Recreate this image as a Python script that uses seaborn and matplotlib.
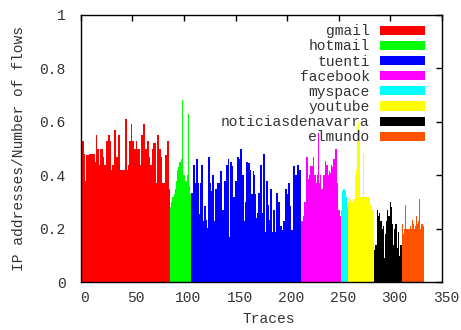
import numpy as np
import pandas as pd
import matplotlib
matplotlib.use("Agg")
import matplotlib.pyplot as plt
import matplotlib.transforms as mtransforms
from matplotlib.patches import Patch
import seaborn as sns

services = ["gmail", "hotmail", "tuenti", "facebook", "myspace", "youtube",
            "noticiasdenavarra", "elmundo"]
colors = ["#ff0000", "#00ff00", "#0000ff", "#ff00ff", "#00ffff", "#ffff00",
          "#000000", "#ff5200"]

gmail = [0.355, 0.355, 0.53, 0.53, 0.48, 0.38, 0.475, 0.475, 0.475, 0.48,
         0.48, 0.48, 0.48, 0.48, 0.45, 0.55, 0.50, 0.50, 0.44, 0.50,
         0.50, 0.50, 0.47, 0.44, 0.44, 0.53, 0.53, 0.55, 0.55, 0.53,
         0.42, 0.44, 0.44, 0.57, 0.57, 0.47, 0.47, 0.55, 0.55, 0.42,
         0.42, 0.42, 0.42, 0.61, 0.61, 0.42, 0.44, 0.53, 0.53, 0.59,
         0.53, 0.53, 0.50, 0.50,
         0.53, 0.50, 0.50, 0.50, 0.44, 0.55, 0.55, 0.59, 0.59, 0.50,
         0.50, 0.53, 0.53, 0.47, 0.44, 0.44, 0.50, 0.52, 0.52, 0.37,
         0.55, 0.55, 0.50, 0.50, 0.47, 0.37, 0.37, 0.37, 0.475, 0.475,
         0.53, 0.53, 0.35]
hotmail = [0.28, 0.30, 0.32, 0.32, 0.33, 0.35, 0.38, 0.42, 0.43, 0.45,
           0.45, 0.46, 0.68, 0.40, 0.40, 0.38, 0.40, 0.63, 0.36, 0.33]
tuenti = [0.335, 0.335, 0.437, 0.437, 0.37, 0.46, 0.46, 0.37, 0.254, 0.37,
          0.44, 0.44, 0.23, 0.285, 0.285, 0.235, 0.205, 0.47, 0.47, 0.37,
          0.34, 0.40, 0.40, 0.23, 0.35, 0.35, 0.37, 0.37, 0.416, 0.416,
          0.27, 0.27, 0.38, 0.38, 0.44, 0.44, 0.46, 0.17, 0.45, 0.45,
          0.435, 0.32, 0.32, 0.38, 0.38, 0.47, 0.47, 0.46, 0.50, 0.50,
          0.40, 0.40, 0.23, 0.30, 0.45, 0.45,
          0.445, 0.42, 0.33, 0.33, 0.416, 0.40, 0.33, 0.24, 0.26, 0.335,
          0.335, 0.44, 0.44, 0.26, 0.48, 0.48, 0.19, 0.38, 0.38, 0.29,
          0.235, 0.35, 0.35, 0.19, 0.27, 0.27, 0.19, 0.335, 0.335, 0.30,
          0.30, 0.21, 0.195, 0.23, 0.23, 0.35, 0.35, 0.33, 0.37, 0.37,
          0.285, 0.195, 0.195, 0.435, 0.435, 0.40, 0.40, 0.44, 0.44, 0.42,
          0.42]
facebook = [0.23, 0.23, 0.25, 0.30, 0.30, 0.47, 0.47, 0.385, 0.40, 0.435,
            0.435, 0.47, 0.40, 0.40, 0.37, 0.40, 0.56, 0.37, 0.40, 0.35,
            0.35, 0.40, 0.40, 0.455, 0.44, 0.44, 0.40, 0.415, 0.41, 0.44,
            0.43, 0.46, 0.46, 0.50, 0.50, 0.37, 0.27, 0.27, 0.25]
myspace = [0.27, 0.34, 0.35, 0.34, 0.32, 0.28]
youtube = [0.30, 0.32, 0.31, 0.30, 0.30, 0.31, 0.31, 0.40, 0.42, 0.58,
           0.60, 0.57, 0.32, 0.32, 0.32, 0.48, 0.32, 0.32, 0.32, 0.32,
           0.32, 0.32, 0.29, 0.29, 0.27, 0.27]
noticias = [0.12, 0.14, 0.27, 0.25, 0.26, 0.23, 0.23, 0.20, 0.21, 0.09,
            0.18, 0.23, 0.27, 0.25, 0.25, 0.30, 0.28, 0.22, 0.14, 0.20,
            0.22, 0.22, 0.13, 0.19, 0.10, 0.14, 0.14]
elmundo = [0.22, 0.18, 0.20, 0.29, 0.20, 0.20, 0.20, 0.21, 0.20, 0.235,
           0.22, 0.20, 0.21, 0.25, 0.22, 0.23, 0.31, 0.20, 0.22, 0.22, 0.21]

series = [gmail, hotmail, tuenti, facebook, myspace, youtube, noticias, elmundo]
vals, labs = [], []
for name, s in zip(services, series):
    vals.extend(s)
    labs.extend([name] * len(s))
df = pd.DataFrame({"trace": np.arange(len(vals)), "value": vals, "service": labs})

sns.set_style("white")
plt.rcParams["font.family"] = ["Liberation Mono", "DejaVu Sans Mono"]
fs = 10.5
txt = "#333333"

fig = plt.figure(figsize=(4.61, 3.30), dpi=100)
ax = fig.add_axes([0.175, 0.144, 0.784, 0.8115])

sns.histplot(data=df, x="trace", weights="value", hue="service",
             hue_order=services, palette=colors, discrete=True,
             multiple="layer", element="bars", fill=True, alpha=1,
             linewidth=0, shrink=1, legend=False, ax=ax)

ax.set_xlim(0, 350)
ax.set_ylim(0, 1)
ax.set_xticks(np.arange(0, 351, 50))
ax.set_yticks([0, 0.2, 0.4, 0.6, 0.8, 1])
ax.set_yticklabels(["0", "0.2", "0.4", "0.6", "0.8", "1"])
ax.tick_params(direction="in", length=4, width=1, top=True, right=True,
               labelsize=fs, labelcolor=txt, color="black")
ax.tick_params(axis="x", pad=6)
ax.tick_params(axis="y", pad=11)
shift = mtransforms.ScaledTranslation(4 / 100, 0, fig.dpi_scale_trans)
for lbl in ax.get_xticklabels():
    lbl.set_transform(lbl.get_transform() + shift)
for sp in ax.spines.values():
    sp.set_visible(True)
    sp.set_color("black")
    sp.set_linewidth(1)

ax.set_xlabel("Traces", fontsize=fs, color=txt)
ax.set_ylabel("IP addresses/Number of flows", fontsize=fs, color=txt)
ax.xaxis.set_label_coords(0.52, -0.112)
ax.yaxis.set_label_coords(-0.152, 0.5)

handles = [Patch(facecolor=c, edgecolor="none", label=n)
           for n, c in zip(services, colors)]
leg = ax.legend(handles=handles, loc="upper right", bbox_to_anchor=(0.953, 0.964),
                frameon=False, markerfirst=False, fontsize=fs,
                handlelength=3.1, handleheight=0.6, labelspacing=0.08,
                handletextpad=0.7, borderpad=0, borderaxespad=0)
for t in leg.get_texts():
    t.set_color(txt)

fig.savefig("out.png", dpi=100)
